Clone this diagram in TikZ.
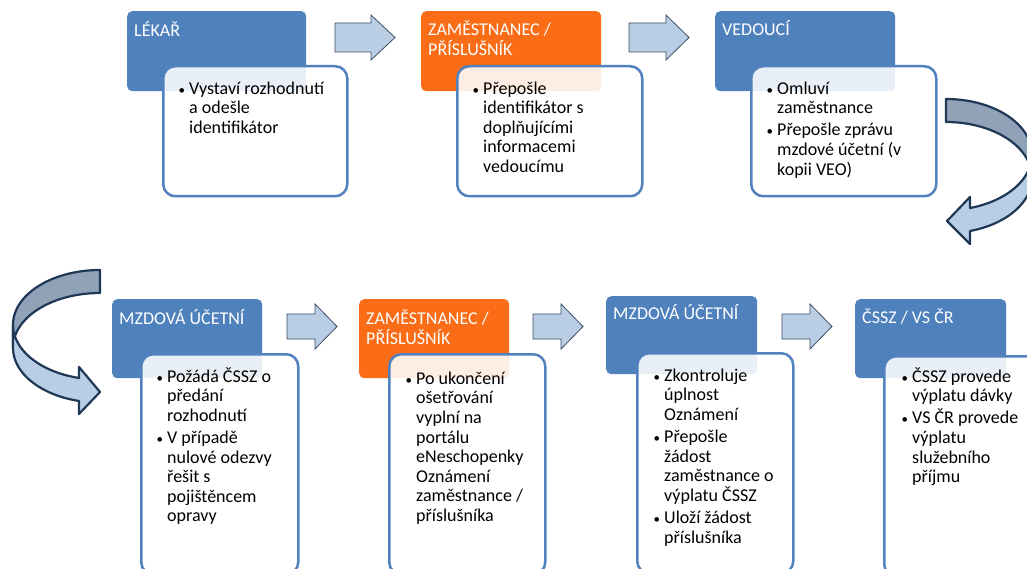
\documentclass[tikz,border=0pt]{standalone}
\usepackage{graphicx}
\usepackage{fontspec}
\setmainfont{Carlito}
\definecolor{hblue}{RGB}{79,129,189}
\definecolor{horange}{RGB}{250,109,22}
\definecolor{bblue}{RGB}{82,130,190}
\definecolor{afill}{RGB}{185,205,229}
\definecolor{aline}{RGB}{62,78,100}
\definecolor{cdark}{RGB}{143,162,184}
\definecolor{cline}{RGB}{31,56,86}
\newcommand{\firstln}{\rule{0pt}{16pt}}
\newcommand{\mybul}{\makebox[11pt][l]{\hspace{0.5pt}\scalebox{0.72}{\textbullet}}}
\newcommand{\myind}{\hspace*{11pt}}
\begin{document}
\begin{tikzpicture}[x=1pt,y=-1pt,
  hdr/.style={fill=hblue, rounded corners=5pt, anchor=north west, inner sep=0pt},
  hdrorange/.style={hdr, fill=horange},
  bodybox/.style={draw=bblue, line width=2.5pt, fill=white, fill opacity=0.88, rounded corners=12pt, anchor=north west, inner sep=0pt},
  htext/.style={anchor=north west, inner sep=0pt, text=white, align=left, font=\fontsize{18}{20}\selectfont},
  btext/.style={anchor=north west, inner sep=0pt, text=black, align=left, font=\fontsize{18}{19.6}\selectfont},
  barrow/.style={fill=afill, draw=aline, line width=0.8pt, line join=miter},
  cback/.style={fill=cdark, draw=cline, line width=2.2pt, line join=round},
  cfront/.style={fill=afill, draw=cline, line width=2.2pt, line join=round}]
\useasboundingbox (0,0) rectangle (1027,569);
\clip (0,0) rectangle (1027,569);
\fill[white] (0,0) rectangle (1027,569);

% ---------- top row ----------
\node[hdr, minimum width=179pt, minimum height=80pt] (h1) at (127,11) {};
\node[hdrorange, minimum width=180pt, minimum height=80pt] (h2) at (421,11) {};
\node[hdr, minimum width=180pt, minimum height=80pt] (h3) at (715,11) {};

\node[bodybox, minimum width=184pt, minimum height=130pt] (b1) at (162,65) {};
\node[bodybox, minimum width=185pt, minimum height=130pt] (b2) at (456,65) {};
\node[bodybox, minimum width=185pt, minimum height=130pt] (b3) at (750,65) {};

\node[htext] (t1) at (134,20) {\firstln LÉKAŘ};
\node[htext] (t2) at (428,19) {\firstln ZAMĚSTNANEC /\\PŘÍSLUŠNÍK};
\node[htext] (t3) at (722,19) {\firstln VEDOUCÍ};

\node[btext] (x1) at (178,78) {\firstln\mybul Vystaví rozhodnutí\\\myind a odešle\\\myind identifikátor};
\node[btext] (x2) at (472,78) {\firstln\mybul Přepošle\\\myind identifikátor s\\\myind doplňujícími\\\myind informacemi\\\myind vedoucímu};
\node[btext] (x3) at (766,78) {\firstln\mybul Omluví\\\myind zaměstnance\\[2.5pt]\mybul Přepošle zprávu\\\myind mzdové účetní (v\\\myind kopii VEO)};

% straight block arrows (top)
\draw[barrow] (335,23) -- (371,23) -- (371,15) -- (395,37.5) -- (371,60) -- (371,52) -- (335,52) -- cycle;
\draw[barrow] (629,23) -- (666,23) -- (666,15) -- (689,37.5) -- (666,60) -- (666,52) -- (629,52) -- cycle;

% ---------- bottom row ----------
\node[hdr, minimum width=150pt, minimum height=79pt] (h4) at (112,299) {};
\node[hdrorange, minimum width=150pt, minimum height=79pt] (h5) at (359,299) {};
\node[hdr, minimum width=151pt, minimum height=78pt] (h6) at (606,296) {};
\node[hdr, minimum width=151pt, minimum height=79pt] (h7) at (855,299) {};

\node[bodybox, minimum width=157pt, minimum height=220pt] (b4) at (140,353) {};
\node[bodybox, minimum width=156pt, minimum height=220pt] (b5) at (388,353) {};
\node[bodybox, minimum width=156pt, minimum height=220pt] (b6) at (636,352) {};
\node[bodybox, minimum width=157pt, minimum height=220pt] (b7) at (883,355) {};

\node[htext] (t4) at (119,308) {\firstln MZDOVÁ ÚČETNÍ};
\node[htext] (t5) at (366,308) {\firstln ZAMĚSTNANEC /\\PŘÍSLUŠNÍK};
\node[htext] (t6) at (613,303) {\firstln MZDOVÁ ÚČETNÍ};
\node[htext] (t7) at (862,307) {\firstln ČSSZ / VS ČR};

\node[btext] (x4) at (156,366) {\firstln\mybul Požádá ČSSZ o\\\myind předání\\\myind rozhodnutí\\[2.5pt]\mybul V případě\\\myind nulové odezvy\\\myind řešit s\\\myind pojištěncem\\\myind opravy};
\node[btext] (x5) at (405,368) {\firstln\mybul Po ukončení\\\myind ošetřování\\\myind vyplní na\\\myind portálu\\\myind eNeschopenky\\\myind Oznámení\\\myind zaměstnance /\\\myind příslušníka};
\node[btext] (x6) at (653,365) {\firstln\mybul Zkontroluje\\\myind úplnost\\\myind Oznámení\\[2.5pt]\mybul Přepošle\\\myind žádost\\\myind zaměstnance o\\\myind výplatu ČSSZ\\[2.5pt]\mybul Uloží žádost\\\myind příslušníka};
\node[btext] (x7) at (901,366) {\firstln\mybul ČSSZ provede\\\myind výplatu dávky\\[2.5pt]\mybul VS ČR provede\\\myind výplatu\\\myind služebního\\\myind příjmu};

% straight block arrows (bottom)
\draw[barrow] (287,314) -- (315,314) -- (315,304) -- (337,326.5) -- (315,349) -- (315,339) -- (287,339) -- cycle;
\draw[barrow] (533,314) -- (561,314) -- (561,304) -- (583,326.5) -- (561,349) -- (561,339) -- (533,339) -- cycle;
\draw[barrow] (782,314) -- (810,314) -- (810,304) -- (832,326.5) -- (810,349) -- (810,339) -- (782,339) -- cycle;

% ---------- curved arrow on the right (VEDOUCI -> MZDOVA UCETNI) ----------
\draw[cback] plot[domain=270:360, samples=40, variable=\t] ({946+86*cos(\t)},{154.6+55.6*sin(\t)})
  -- plot[domain=360:270, samples=40, variable=\t] ({946+86*cos(\t)},{177.6+55.6*sin(\t)}) -- cycle;
\draw[cfront] plot[domain=0:73.8, samples=40, variable=\t] ({946+86*cos(\t)},{154.6+55.6*sin(\t)})
  -- (970,197) -- (947,221) -- (970,244)
  -- plot[domain=73.8:0, samples=40, variable=\t] ({946+86*cos(\t)},{177.6+55.6*sin(\t)}) -- cycle;

% ---------- curved arrow on the left ----------
\draw[cback] plot[domain=270:180, samples=40, variable=\t] ({100+87*cos(\t)},{324.8+54.8*sin(\t)})
  -- plot[domain=180:270, samples=40, variable=\t] ({100+87*cos(\t)},{347.8+54.8*sin(\t)}) -- cycle;
\draw[cfront] plot[domain=180:103.9, samples=40, variable=\t] ({100+87*cos(\t)},{324.8+54.8*sin(\t)})
  -- (79,367) -- (100,392) -- (79,414)
  -- plot[domain=103.9:180, samples=40, variable=\t] ({100+87*cos(\t)},{347.8+54.8*sin(\t)}) -- cycle;
\end{tikzpicture}
\end{document}
